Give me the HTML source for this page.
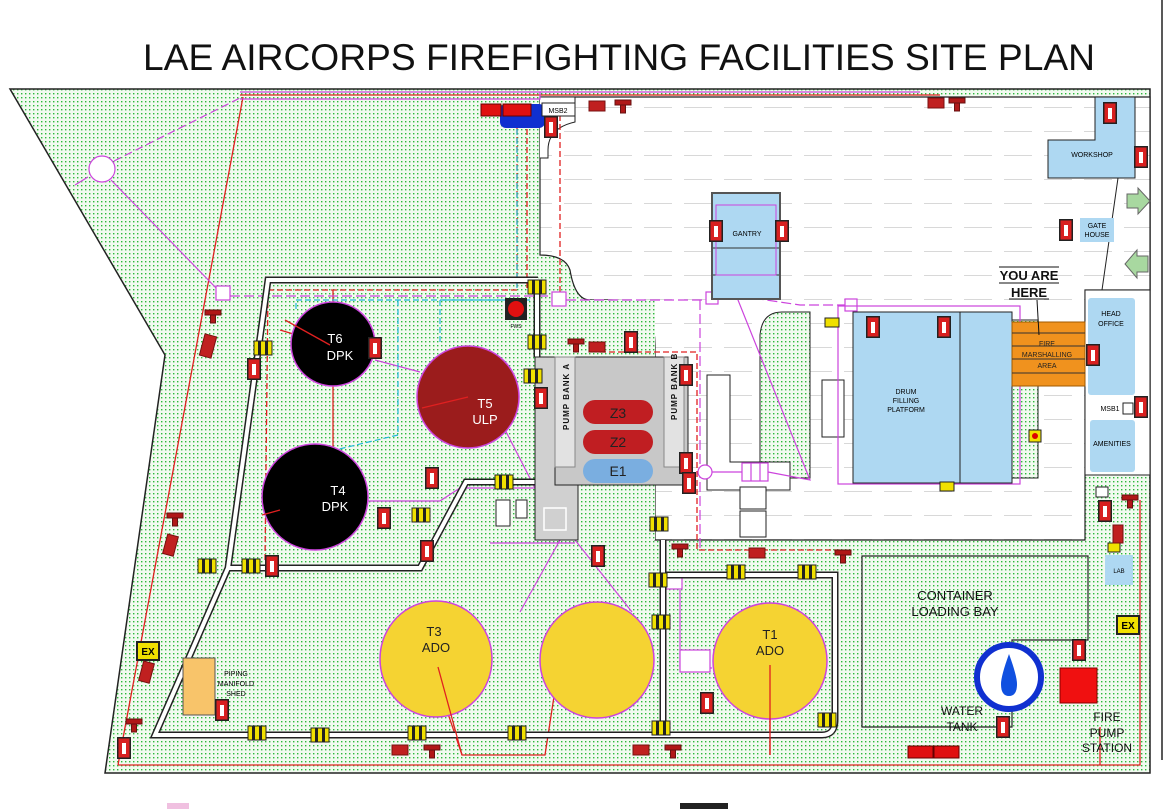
<!DOCTYPE html>
<html><head><meta charset="utf-8"><style>
html,body{margin:0;padding:0;background:#fff;}
svg{display:block;font-family:"Liberation Sans",Arial,sans-serif;}
</style></head><body>
<svg width="1164" height="809" viewBox="0 0 1164 809" xmlns="http://www.w3.org/2000/svg">
<defs>
<pattern id="dots" width="4" height="4" patternUnits="userSpaceOnUse">
<rect width="4" height="4" fill="#f2faf0"/><rect x="1" y="1" width="1.4" height="1.4" fill="#2cb83a"/>
</pattern>
<pattern id="pave" width="40" height="24" patternUnits="userSpaceOnUse">
<rect width="40" height="24" fill="#fff"/><rect x="4" y="11" width="28" height="1" fill="#d8d8d8"/>
</pattern>
<g id="ext"><rect x="-7" y="-11" width="14" height="22" fill="#222"/><rect x="-5.5" y="-9.5" width="11" height="19" fill="#d82020"/><rect x="-2" y="-5" width="4" height="11" fill="#fff"/></g>
<g id="hr"><rect x="-9" y="-7" width="18" height="14" fill="#f0e000" stroke="#222"/><rect x="-5" y="-7" width="3" height="14" fill="#222"/><rect x="2" y="-7" width="3" height="14" fill="#222"/></g>
<g id="hy"><rect x="-8" y="-5" width="16" height="5" fill="#b01818" stroke="#611"/><rect x="-2.5" y="0" width="5" height="8" fill="#b01818" stroke="#611"/></g>
<g id="rb"><rect x="-8" y="-5" width="16" height="10" fill="#c02020" stroke="#711"/></g>
</defs>

<text x="143" y="70" font-size="37" textLength="952" lengthAdjust="spacingAndGlyphs" fill="#111">LAE AIRCORPS FIREFIGHTING FACILITIES SITE PLAN</text>

<!-- site -->
<polygon points="10,89 1150,89 1150,773 105,773 165,355" fill="url(#dots)" stroke="#222" stroke-width="1.5"/>
<line x1="1162" y1="0" x2="1162" y2="760" stroke="#222" stroke-width="1.5"/>
<!-- paved area -->
<path d="M540,97 L1150,97 L1150,290 L1085,290 L1085,540 L655,540 L655,345 Q655,300 610,300 L590,300 Q575,300 570,270 Q565,255 540,255 Z" fill="url(#pave)" stroke="#222" stroke-width="1.2"/>
<path d="M540,97 L575,97 L575,122 Q548,128 548,150 L548,158 L540,158" fill="#fff" stroke="#222"/>
<path d="M1085,290 L1150,290 L1150,475 L1085,475 Z" fill="#fff" stroke="#222"/>
<path d="M1085,475 L1150,475 L1150,773" fill="none" stroke="#222"/>
<!-- green patches inside paved -->
<path d="M782,312 L810,312 L810,478 L760,478 L760,335 Q762,312 782,312 Z" fill="url(#dots)" stroke="#222"/>
<rect x="822" y="380" width="22" height="57" fill="#fff" stroke="#222"/>
<rect x="1012" y="320" width="26" height="158" fill="url(#dots)" stroke="#222"/>
<rect x="575" y="300" width="80" height="240" fill="url(#dots)"/>
<path d="M707,375 L730,375 L730,462 L790,462 L790,490 L707,490 Z" fill="#fff" stroke="#222"/>
<rect x="740" y="487" width="26" height="22" fill="#fff" stroke="#222"/>
<rect x="740" y="511" width="26" height="26" fill="#fff" stroke="#222"/>
<!-- container bay -->
<path d="M862,556 L1088,556 L1088,640 L1012,640 L1012,727 L862,727 Z" fill="none" stroke="#222" stroke-width="1.2"/>
<text x="955" y="600" font-size="13" text-anchor="middle" fill="#111">CONTAINER</text>
<text x="955" y="616" font-size="13" text-anchor="middle" fill="#111">LOADING BAY</text>

<!-- red fire mains -->
<g fill="none" stroke="#e02020" stroke-width="1.3">
<line x1="243" y1="97" x2="118" y2="765"/>
<polyline points="118,765 1140,765 1140,500"/>
<line x1="1100" y1="727" x2="1100" y2="765"/>
<polyline points="265,560 268,290 517,290 517,120" stroke-dasharray="6,3"/>
<line x1="527" y1="120" x2="527" y2="290" stroke-dasharray="6,3"/>
<line x1="560" y1="115" x2="560" y2="300" stroke-dasharray="6,3"/>
<polyline points="600,352 697,352 697,550 840,550" stroke-dasharray="6,3"/>
<line x1="333" y1="290" x2="333" y2="520"/>
<line x1="280" y1="330" x2="330" y2="345"/>
<line x1="420" y1="405" x2="468" y2="397"/>
<polyline points="440,690 462,755 545,755 555,690"/>
<line x1="770" y1="665" x2="770" y2="755"/>
<line x1="240" y1="95" x2="940" y2="95"/>
</g>
<!-- purple lines -->
<g fill="none" stroke="#cc44dd" stroke-width="1.2">
<polyline points="240,92 920,92"/>
<polyline points="240,99 540,99 540,92"/>
<circle cx="102" cy="169" r="13" fill="#fff"/>
<line x1="88" y1="177" x2="75" y2="185"/><line x1="114" y1="161" x2="240" y2="98" stroke-dasharray="8,4"/>
<line x1="111" y1="180" x2="218" y2="290"/>
<rect x="216" y="286" width="14" height="14" fill="#fff"/>
<polyline points="230,296 530,296 555,296" stroke-dasharray="10,4"/>
<rect x="552" y="292" width="14" height="14" fill="#fff"/>
<polyline points="566,300 712,300 712,292 800,305 853,305" stroke-dasharray="10,4"/>
<rect x="706" y="292" width="12" height="12" fill="#fff"/>
<rect x="845" y="299" width="12" height="12" fill="#fff"/>
<rect x="838" y="306" width="182" height="178"/>
<line x1="700" y1="300" x2="700" y2="550" stroke-dasharray="10,4"/>
<circle cx="705" cy="472" r="7" fill="#fff"/>
<line x1="712" y1="472" x2="742" y2="472"/>
<rect x="742" y="463" width="26" height="18" fill="#fff"/><line x1="751" y1="463" x2="751" y2="481"/><line x1="760" y1="463" x2="760" y2="481"/>
<polyline points="768,472 810,480 716,245"/>
<line x1="375" y1="360" x2="420" y2="372"/>
<line x1="368" y1="501" x2="440" y2="501"/>
<polyline points="440,501 460,488 535,488"/>
<line x1="500" y1="420" x2="535" y2="488"/>
<polyline points="490,543 575,543"/>
<line x1="575" y1="540" x2="632" y2="612"/><line x1="560" y1="540" x2="520" y2="612"/>
<polyline points="680,590 680,668 712,668"/><rect x="680" y="650" width="30" height="22" fill="#fff"/>
<rect x="666" y="575" width="16" height="14" fill="#fff"/>
<rect x="540" y="505" width="28" height="28" fill="#fff"/>
</g>
<!-- cyan dashed -->
<g fill="none" stroke="#20b8d8" stroke-width="1.2" stroke-dasharray="6,3">
<polyline points="517,120 517,290"/>
<polyline points="527,300 296,300 296,310"/>
<polyline points="530,300 440,300 440,345"/>
<polyline points="398,300 398,435 335,450 335,470"/>
</g>

<!-- pipes -->
<g fill="none" stroke="#222" stroke-width="7">
<path d="M538,280 L268,280 L228,568 L155,735 L822,735 Q835,735 835,720 L835,575 L665,575"/>
<path d="M228,568 L420,568 L466,482 L535,482"/>
<path d="M663,540 L663,735"/><path d="M537,280 L537,357"/>
</g>
<g fill="none" stroke="#fff" stroke-width="4">
<path d="M538,280 L268,280 L228,568 L155,735 L822,735 Q835,735 835,720 L835,575 L665,575"/>
<path d="M228,568 L420,568 L466,482 L535,482"/>
<path d="M663,540 L663,735"/><path d="M537,280 L537,357"/>
</g>

<!-- pump area -->
<rect x="535" y="357" width="43" height="183" fill="#d0d0d0" stroke="#222"/>
<rect x="555" y="357" width="133" height="128" fill="#c8c8c8" stroke="#222"/>
<rect x="555" y="357" width="20" height="110" fill="#e2e2e2" stroke="#888"/>
<rect x="664" y="357" width="20" height="110" fill="#e2e2e2" stroke="#888"/>
<text transform="translate(569,430) rotate(-90)" font-size="8" font-weight="bold" letter-spacing="1" fill="#111">PUMP BANK A</text>
<text transform="translate(677,420) rotate(-90)" font-size="8" font-weight="bold" letter-spacing="1" fill="#111">PUMP BANK B</text>
<rect x="583" y="400" width="70" height="24" rx="12" fill="#c01e22"/>
<rect x="583" y="430" width="70" height="24" rx="12" fill="#c01e22"/>
<rect x="583" y="459" width="70" height="24" rx="12" fill="#7aaee0"/>
<text x="618" y="418" font-size="14" text-anchor="middle" fill="#222">Z3</text>
<text x="618" y="447" font-size="14" text-anchor="middle" fill="#222">Z2</text>
<text x="618" y="476" font-size="14" text-anchor="middle" fill="#222">E1</text>
<rect x="544" y="508" width="22" height="22" fill="none" stroke="#fff" stroke-width="1.5"/>
<rect x="496" y="500" width="14" height="26" fill="#fff" stroke="#222"/>
<rect x="516" y="500" width="11" height="18" fill="#fff" stroke="#222"/>
<rect x="505" y="298" width="22" height="22" fill="#222"/><circle cx="516" cy="309" r="8" fill="#e01010"/>
<text x="516" y="328" font-size="5" text-anchor="middle">FWS</text>

<!-- tanks -->
<g stroke="#cc44dd" stroke-width="1.5">
<circle cx="333" cy="344" r="42" fill="#000"/>
<circle cx="468" cy="397" r="51" fill="#9b1c1c"/>
<circle cx="315" cy="497" r="53" fill="#000"/>
<ellipse cx="436" cy="659" rx="56" ry="58" fill="#f5d332"/>
<ellipse cx="597" cy="660" rx="57" ry="58" fill="#f5d332"/>
<ellipse cx="770" cy="661" rx="57" ry="58" fill="#f5d332"/>
</g>
<g stroke="#e02020" stroke-width="1.3"><line x1="285" y1="320" x2="330" y2="345"/><line x1="422" y1="408" x2="468" y2="397"/><line x1="262" y1="515" x2="280" y2="510"/></g>
<g font-size="13" text-anchor="middle" fill="#fff">
<text x="335" y="343">T6</text><text x="340" y="360">DPK</text>
<text x="485" y="408">T5</text><text x="485" y="424">ULP</text>
<text x="338" y="495">T4</text><text x="335" y="511">DPK</text>
</g>
<g font-size="13" text-anchor="middle" fill="#222">
<text x="434" y="636">T3</text><text x="436" y="652">ADO</text>
<text x="770" y="639">T1</text><text x="770" y="655">ADO</text>
</g>
<g stroke="#e02020" stroke-width="1.3"><line x1="438" y1="667" x2="462" y2="755"/><line x1="770" y1="665" x2="770" y2="755"/></g>

<!-- buildings -->
<path d="M1095,97 L1135,97 L1135,178 L1048,178 L1048,140 L1095,140 Z" fill="#aed8f2" stroke="#222"/>
<text x="1092" y="157" font-size="7" text-anchor="middle">WORKSHOP</text>
<line x1="1118" y1="178" x2="1102" y2="290" stroke="#222"/>
<rect x="1080" y="218" width="34" height="24" fill="#aed8f2"/>
<text x="1097" y="228" font-size="7" text-anchor="middle">GATE</text><text x="1097" y="237" font-size="7" text-anchor="middle">HOUSE</text>
<polygon points="1127,194 1138,194 1138,188 1150,201 1138,214 1138,208 1127,208" fill="#a8d8a0" stroke="#666"/>
<polygon points="1148,256 1137,256 1137,250 1125,264 1137,278 1137,272 1148,272" fill="#a8d8a0" stroke="#666"/>
<rect x="712" y="193" width="68" height="106" fill="#aed8f2" stroke="#555" stroke-width="2"/>
<line x1="713" y1="248" x2="779" y2="248" stroke="#333"/><line x1="713" y1="275" x2="779" y2="275" stroke="#333"/>
<rect x="716" y="205" width="60" height="70" fill="none" stroke="#cc44dd"/>
<text x="747" y="236" font-size="7" text-anchor="middle">GANTRY</text>
<rect x="853" y="312" width="159" height="171" fill="#aed8f2" stroke="#222"/>
<line x1="960" y1="312" x2="960" y2="483" stroke="#222"/>
<text x="906" y="394" font-size="7" text-anchor="middle">DRUM</text><text x="906" y="403" font-size="7" text-anchor="middle">FILLING</text><text x="906" y="412" font-size="7" text-anchor="middle">PLATFORM</text>
<rect x="1012" y="322" width="73" height="64" fill="#f0921e" stroke="#a05a00"/>
<g stroke="#333"><line x1="1012" y1="333" x2="1085" y2="333"/><line x1="1012" y1="346" x2="1085" y2="346"/><line x1="1012" y1="359" x2="1085" y2="359"/><line x1="1012" y1="373" x2="1085" y2="373"/></g>
<text x="1047" y="346" font-size="7" text-anchor="middle" fill="#222">FIRE</text><text x="1047" y="357" font-size="7" text-anchor="middle" fill="#222">MARSHALLING</text><text x="1047" y="368" font-size="7" text-anchor="middle" fill="#222">AREA</text>
<rect x="1088" y="298" width="47" height="97" rx="3" fill="#aed8f2"/>
<text x="1111" y="316" font-size="7" text-anchor="middle">HEAD</text><text x="1111" y="326" font-size="7" text-anchor="middle">OFFICE</text>
<text x="1110" y="411" font-size="7" text-anchor="middle">MSB1</text><rect x="1123" y="403" width="10" height="11" fill="#fff" stroke="#222"/>
<rect x="1090" y="420" width="45" height="52" rx="3" fill="#aed8f2"/>
<text x="1112" y="446" font-size="7" text-anchor="middle">AMENITIES</text>
<rect x="1105" y="555" width="28" height="30" fill="#aed8f2"/><text x="1119" y="573" font-size="6" text-anchor="middle">LAB</text>
<rect x="1108" y="543" width="12" height="9" fill="#f0e000" stroke="#222"/>
<rect x="1096" y="487" width="12" height="10" fill="#fff" stroke="#222"/>
<text x="1029" y="280" font-size="13" font-weight="bold" text-anchor="middle" fill="#111">YOU ARE</text>
<text x="1029" y="297" font-size="13" font-weight="bold" text-anchor="middle" fill="#111">HERE</text>
<line x1="999" y1="267" x2="1059" y2="267" stroke="#111"/><line x1="999" y1="283" x2="1059" y2="283" stroke="#111"/><line x1="1009" y1="299" x2="1049" y2="299" stroke="#111"/>
<line x1="1037" y1="300" x2="1039" y2="335" stroke="#111"/>
<rect x="500" y="104" width="45" height="24" rx="6" fill="#1030d0"/>
<rect x="542" y="103" width="33" height="13" fill="#fff" stroke="#222"/><text x="558" y="113" font-size="7" text-anchor="middle">MSB2</text>
<rect x="481" y="104" width="20" height="12" fill="#e01010" stroke="#600"/><rect x="503" y="104" width="28" height="12" fill="#e01010" stroke="#600"/>
<rect x="908" y="746" width="25" height="12" fill="#e01010" stroke="#600"/><rect x="934" y="746" width="25" height="12" fill="#e01010" stroke="#600"/>
<rect x="183" y="658" width="32" height="57" fill="#f8c46a" stroke="#555"/>
<text x="236" y="676" font-size="7" text-anchor="middle">PIPING</text><text x="236" y="686" font-size="7" text-anchor="middle">MANIFOLD</text><text x="236" y="696" font-size="7" text-anchor="middle">SHED</text>
<circle cx="1009" cy="677" r="32" fill="#fff" stroke="#1030d0" stroke-width="6"/>
<path d="M1009,654 Q1001,676 1001,684 Q1001,696 1009,696 Q1017,696 1017,684 Q1017,676 1009,654 Z" fill="#1050e0"/>
<rect x="1060" y="668" width="37" height="35" fill="#f01010" stroke="#800"/>
<text x="962" y="715" font-size="12" text-anchor="middle" fill="#111">WATER</text><text x="962" y="731" font-size="12" text-anchor="middle" fill="#111">TANK</text>
<text x="1107" y="721" font-size="12" text-anchor="middle" fill="#111">FIRE</text><text x="1107" y="737" font-size="12" text-anchor="middle" fill="#111">PUMP</text><text x="1107" y="752" font-size="12" text-anchor="middle" fill="#111">STATION</text>
<g font-size="10" font-weight="bold" text-anchor="middle"><rect x="137" y="642" width="22" height="18" fill="#f0e000" stroke="#222" stroke-width="2"/><text x="148" y="655">EX</text>
<rect x="1117" y="616" width="22" height="18" fill="#f0e000" stroke="#222" stroke-width="2"/><text x="1128" y="629">EX</text></g>
<rect x="825" y="318" width="14" height="9" fill="#f0e000" stroke="#222"/>
<rect x="940" y="482" width="14" height="9" fill="#f0e000" stroke="#222"/>
<rect x="1029" y="430" width="12" height="12" fill="#f0e000" stroke="#222"/><circle cx="1035" cy="436" r="3" fill="#d00"/>

<!-- extinguishers -->
<g>
<use href="#ext" x="551" y="127"/><use href="#ext" x="1110" y="113"/><use href="#ext" x="1141" y="157"/><use href="#ext" x="1066" y="230"/>
<use href="#ext" x="716" y="231"/><use href="#ext" x="782" y="231"/><use href="#ext" x="873" y="327"/><use href="#ext" x="944" y="327"/>
<use href="#ext" x="1093" y="355"/><use href="#ext" x="1141" y="407"/><use href="#ext" x="375" y="348"/><use href="#ext" x="631" y="342"/>
<use href="#ext" x="686" y="375"/><use href="#ext" x="541" y="398"/><use href="#ext" x="254" y="369"/><use href="#ext" x="432" y="478"/>
<use href="#ext" x="384" y="518"/><use href="#ext" x="686" y="463"/><use href="#ext" x="689" y="483"/><use href="#ext" x="1105" y="511"/>
<use href="#ext" x="427" y="551"/><use href="#ext" x="598" y="556"/><use href="#ext" x="272" y="566"/><use href="#ext" x="222" y="710"/>
<use href="#ext" x="124" y="748"/><use href="#ext" x="707" y="703"/><use href="#ext" x="1003" y="727"/><use href="#ext" x="1079" y="650"/>
</g>
<!-- hose reels -->
<g>
<use href="#hr" x="537" y="287"/><use href="#hr" x="537" y="342"/><use href="#hr" x="533" y="376"/><use href="#hr" x="504" y="482"/>
<use href="#hr" x="421" y="515"/><use href="#hr" x="263" y="348"/><use href="#hr" x="207" y="566"/><use href="#hr" x="251" y="566"/>
<use href="#hr" x="659" y="524"/><use href="#hr" x="658" y="580"/><use href="#hr" x="736" y="572"/><use href="#hr" x="807" y="572"/>
<use href="#hr" x="661" y="622"/><use href="#hr" x="257" y="733"/><use href="#hr" x="320" y="735"/><use href="#hr" x="417" y="733"/>
<use href="#hr" x="517" y="733"/><use href="#hr" x="661" y="728"/><use href="#hr" x="827" y="720"/>
</g>
<!-- hydrants -->
<g>
<use href="#hy" x="213" y="315"/><use href="#hy" x="175" y="518"/><use href="#hy" x="576" y="344"/><use href="#hy" x="623" y="105"/>
<use href="#hy" x="957" y="103"/><use href="#hy" x="680" y="549"/><use href="#hy" x="843" y="555"/><use href="#hy" x="1130" y="500"/>
<use href="#hy" x="432" y="750"/><use href="#hy" x="673" y="750"/><use href="#hy" x="134" y="724"/>
</g>
<g>
<use href="#rb" x="597" y="106"/><use href="#rb" x="936" y="103"/><use href="#rb" x="597" y="347"/><use href="#rb" x="757" y="553"/>
<use href="#rb" x="400" y="750"/><use href="#rb" x="641" y="750"/>
<rect x="202" y="335" width="12" height="22" fill="#c02020" stroke="#711" transform="rotate(15 208 346)"/>
<rect x="165" y="535" width="11" height="20" fill="#c02020" stroke="#711" transform="rotate(15 170 545)"/>
<rect x="141" y="662" width="11" height="20" fill="#c02020" stroke="#711" transform="rotate(15 146 672)"/>
<rect x="1113" y="525" width="10" height="18" fill="#c02020" stroke="#711"/>
</g>
<rect x="167" y="803" width="22" height="6" fill="#f0c0e0"/>
<rect x="680" y="803" width="48" height="6" fill="#222"/>
</svg>
</body></html>
